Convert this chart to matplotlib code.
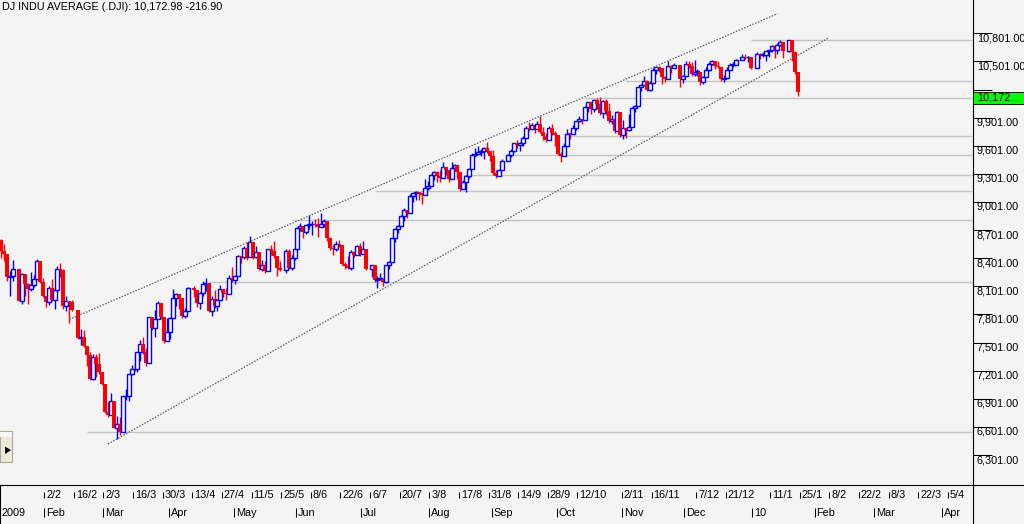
import numpy as np
import pandas as pd
import matplotlib
matplotlib.use("Agg")
import matplotlib.pyplot as plt
import matplotlib.transforms as mtransforms
from matplotlib.patches import Rectangle, Polygon
from matplotlib.lines import Line2D

plt.rcParams['font.family'] = ['Liberation Sans', 'DejaVu Sans']

# daily DJIA, one row per week (Mon..Fri), None = market closed
first_day = '2009-01-12'
first_open = 8599.0
close = [
    8473.97, 8448.56, 8200.14, 8212.49, 8281.22,
    None, 7949.09, 8228.10, 8122.80, 8077.56,
    8116.03, 8174.73, 8375.45, 8149.01, 8000.86,
    7936.83, 8078.36, 7956.66, 8063.07, 8280.59,
    8270.87, 7888.88, 7939.53, 7932.76, 7850.41,
    None, 7552.60, 7555.63, 7465.95, 7365.67,
    7114.78, 7350.94, 7270.89, 7182.08, 7062.93,
    6763.29, 6726.02, 6875.84, 6594.44, 6626.94,
    6547.05, 6926.49, 6930.40, 7170.06, 7223.98,
    7216.97, 7395.70, 7486.58, 7400.80, 7278.38,
    7775.86, 7660.21, 7749.81, 7924.56, 7776.18,
    7522.02, 7608.92, 7761.60, 7978.08, 8017.59,
    7975.85, 7789.56, 7837.11, 8083.38, None,
    8057.81, 7920.18, 8029.62, 8125.43, 8131.33,
    7841.73, 7969.56, 7886.57, 7957.06, 8076.29,
    8025.00, 8016.95, 8185.73, 8168.12, 8212.41,
    8426.74, 8410.65, 8512.28, 8409.85, 8574.65,
    8418.77, 8469.11, 8284.89, 8331.32, 8268.64,
    8504.08, 8474.85, 8422.04, 8292.13, 8277.32,
    None, 8473.49, 8300.02, 8403.80, 8500.33,
    8721.44, 8740.87, 8675.24, 8750.24, 8763.13,
    8764.49, 8763.06, 8739.02, 8770.92, 8799.26,
    8612.13, 8504.67, 8497.18, 8555.60, 8539.73,
    8339.01, 8322.91, 8299.86, 8472.40, 8438.39,
    8529.38, 8447.00, 8504.06, 8280.74, None,
    8324.87, 8163.60, 8178.41, 8183.17, 8146.52,
    8331.68, 8359.49, 8616.21, 8711.82, 8743.94,
    8848.15, 8915.94, 8881.26, 9069.29, 9093.24,
    9108.51, 9096.72, 9070.72, 9154.46, 9171.61,
    9286.56, 9320.19, 9280.97, 9256.26, 9370.07,
    9337.95, 9241.45, 9361.61, 9398.19, 9321.40,
    9135.34, 9217.94, 9279.16, 9350.05, 9505.96,
    9509.28, 9539.29, 9543.52, 9580.63, 9544.20,
    9496.28, 9310.60, 9280.67, 9344.61, 9441.27,
    None, 9497.34, 9547.22, 9627.48, 9605.41,
    9626.80, 9683.41, 9791.71, 9783.92, 9820.20,
    9778.86, 9829.87, 9748.55, 9707.44, 9665.19,
    9789.36, 9742.20, 9712.28, 9509.28, 9487.67,
    9599.75, 9731.25, 9725.58, 9786.87, 9864.94,
    9885.80, 9871.06, 10015.86, 10062.94, 9995.91,
    10092.19, 10041.48, 9949.36, 10081.31, 9972.18,
    9867.96, 9882.17, 9762.69, 9962.58, 9712.73,
    9789.44, 9771.91, 9802.14, 10005.96, 10023.42,
    10226.94, 10246.97, 10291.26, 10197.47, 10270.47,
    10406.96, 10437.42, 10426.31, 10332.44, 10318.16,
    10450.95, 10433.71, 10464.40, None, 10309.92,
    10344.84, 10471.58, 10452.68, 10366.15, 10388.90,
    10390.11, 10285.97, 10337.05, 10405.83, 10471.50,
    10501.05, 10452.00, 10441.12, 10308.26, 10328.89,
    10414.14, 10464.93, 10466.44, 10520.10, None,
    10547.08, 10545.41, 10548.51, 10428.05, None,
    10583.96, 10572.02, 10573.68, 10606.86, 10618.19,
    10663.99, 10627.26, 10680.77, 10710.55, 10609.65,
    None, 10725.43, 10603.15, 10389.88, 10172.98,
]
high = [
    8611, 8556, 8449, 8261, 8380,
    None, 8290, 8244, 8228, 8136,
    8257, 8222, 8397, 8375, 8188,
    8001, 8100, 8175, 8090, 8315,
    8346, 8281, 7996, 7940, 7955,
    None, 7850, 7650, 7640, 7466,
    7400, 7380, 7380, 7390, 7180,
    7063, 6870, 6960, 6876, 6720,
    6710, 6926, 7008, 7170, 7260,
    7381, 7396, 7530, 7561, 7440,
    7776, 7776, 7850, 7940, 7925,
    7776, 7760, 7775, 8075, 8030,
    8018, 7976, 7870, 8090, None,
    8104, 8058, 8040, 8161, 8188,
    8131, 7993, 8060, 7966, 8115,
    8076, 8080, 8220, 8305, 8225,
    8435, 8427, 8530, 8575, 8640,
    8575, 8530, 8469, 8380, 8375,
    8504, 8540, 8580, 8422, 8370,
    None, 8500, 8500, 8435, 8500,
    8731, 8780, 8741, 8760, 8860,
    8800, 8820, 8830, 8880, 8820,
    8799, 8630, 8540, 8580, 8600,
    8540, 8360, 8425, 8490, 8480,
    8540, 8560, 8580, 8504, None,
    8330, 8325, 8210, 8240, 8185,
    8332, 8370, 8620, 8720, 8750,
    8860, 8935, 8920, 9090, 9100,
    9120, 9109, 9097, 9250, 9230,
    9300, 9330, 9330, 9340, 9430,
    9370, 9338, 9430, 9410, 9398,
    9321, 9240, 9290, 9360, 9520,
    9580, 9600, 9570, 9590, 9640,
    9544, 9560, 9340, 9350, 9460,
    None, 9510, 9570, 9630, 9660,
    9640, 9700, 9810, 9850, 9840,
    9820, 9860, 9917, 9800, 9740,
    9810, 9830, 9760, 9712, 9530,
    9630, 9780, 9740, 9820, 9870,
    9920, 9890, 10030, 10070, 10063,
    10100, 10110, 10119, 10090, 10100,
    10060, 9930, 9882, 9970, 9963,
    9880, 9789, 9940, 10010, 10040,
    10230, 10260, 10340, 10300, 10290,
    10430, 10440, 10450, 10426, 10340,
    10500, 10460, 10480, None, 10464,
    10360, 10500, 10500, 10490, 10520,
    10420, 10390, 10350, 10440, 10490,
    10520, 10510, 10500, 10441, 10360,
    10440, 10480, 10490, 10525, None,
    10580, 10580, 10560, 10550, None,
    10605, 10590, 10600, 10615, 10625,
    10680, 10664, 10700, 10730, 10711,
    None, 10730, 10725, 10610, 10390,
]
low = [
    8405, 8371, 8153, 7995, 8162,
    None, 7939, 7909, 7993, 7909,
    8052, 8098, 8175, 8135, 7985,
    7882, 7900, 7940, 7862, 8050,
    8200, 7862, 7839, 7707, 7833,
    None, 7534, 7478, 7450, 7249,
    7105, 7105, 7130, 7170, 7050,
    6750, 6705, 6726, 6586, 6470,
    6517, 6547, 6887, 6880, 7160,
    7200, 7190, 7300, 7380, 7250,
    7278, 7640, 7560, 7750, 7755,
    7495, 7522, 7538, 7762, 7890,
    7855, 7762, 7760, 7837, None,
    7982, 7880, 7855, 8000, 8055,
    7830, 7788, 7865, 7842, 7957,
    7990, 7960, 8017, 8150, 8130,
    8212, 8350, 8390, 8382, 8410,
    8390, 8400, 8270, 8268, 8240,
    8269, 8440, 8400, 8216, 8260,
    None, 8240, 8290, 8280, 8380,
    8500, 8690, 8620, 8660, 8710,
    8650, 8730, 8630, 8735, 8730,
    8580, 8490, 8440, 8480, 8520,
    8325, 8290, 8290, 8280, 8410,
    8438, 8420, 8447, 8270, None,
    8200, 8150, 8087, 8170, 8100,
    8140, 8290, 8359, 8570, 8670,
    8744, 8800, 8830, 8881, 9000,
    9020, 9020, 8980, 9071, 9130,
    9172, 9240, 9210, 9215, 9256,
    9290, 9210, 9241, 9330, 9250,
    9120, 9135, 9110, 9260, 9350,
    9480, 9509, 9490, 9460, 9520,
    9440, 9290, 9260, 9280, 9345,
    None, 9441, 9480, 9530, 9580,
    9550, 9600, 9683, 9760, 9780,
    9740, 9779, 9740, 9660, 9640,
    9665, 9720, 9600, 9500, 9430,
    9488, 9600, 9670, 9726, 9770,
    9850, 9830, 9871, 9960, 9940,
    9960, 9990, 9930, 9900, 9930,
    9840, 9830, 9740, 9763, 9690,
    9670, 9680, 9760, 9802, 9960,
    10023, 10180, 10247, 10180, 10190,
    10270, 10370, 10390, 10260, 10280,
    10318, 10380, 10430, None, 10230,
    10270, 10345, 10430, 10350, 10340,
    10350, 10250, 10260, 10337, 10400,
    10460, 10420, 10430, 10290, 10280,
    10329, 10410, 10440, 10466, None,
    10520, 10530, 10490, 10425, None,
    10428, 10530, 10550, 10510, 10550,
    10600, 10540, 10580, 10670, 10540,
    None, 10600, 10500, 10370, 10130,
]

# drawn lines (support / resistance levels and channel)
level_prices = [6548, 8149, 8811, 9121, 9292, 9505, 9700, 10111, 10287, 10729]
level_starts = ['2009-02-20', '2009-04-20', '2009-05-28', '2009-07-07', '2009-08-18',
                '2009-09-10', '2009-10-07', '2009-10-14', '2009-11-03', '2009-12-31']
upper_dates = ['2009-02-12', '2010-01-13']
upper_prices = [7748, 11010]
lower_dates = ['2009-03-03', '2010-02-05']
lower_prices = [6418, 10747]

price_ticks = [6301, 6601, 6901, 7201, 7501, 7801, 8101, 8401, 8701,
               9001, 9301, 9601, 9901, 10201, 10501, 10801]
tick_days = ['2009-02-02', '2009-02-16', '2009-03-02', '2009-03-16', '2009-03-30',
             '2009-04-13', '2009-04-27', '2009-05-11', '2009-05-25', '2009-06-08',
             '2009-06-22', '2009-07-06', '2009-07-20', '2009-08-03', '2009-08-17',
             '2009-08-31', '2009-09-14', '2009-09-28', '2009-10-12', '2009-11-02',
             '2009-11-16', '2009-12-07', '2009-12-21', '2010-01-11', '2010-01-25',
             '2010-02-08', '2010-02-22', '2010-03-08', '2010-03-22', '2010-04-05']
month_days = ['2009-02-02', '2009-03-02', '2009-04-01', '2009-05-01', '2009-06-01',
              '2009-07-01', '2009-08-03', '2009-09-01', '2009-10-01', '2009-11-02',
              '2009-12-01', '2010-01-01', '2010-02-01', '2010-03-01', '2010-04-01']
month_names = ['Feb', 'Mar', 'Apr', 'May', 'Jun', 'Jul', 'Aug', 'Sep', 'Oct', 'Nov',
               'Dec', '10', 'Feb', 'Mar', 'Apr']

BG = '#f4f4f4'
BLUE = '#0000ff'
RED = '#ff0000'
FS = 7.8

all_days = pd.bdate_range(first_day, '2010-04-30')


def pos(d):
    return all_days.get_loc(pd.Timestamp(d))


# build candles, open = previous close
xs, o, c, h, l = [], [], [], [], []
prev = first_open
for i, cl in enumerate(close):
    if cl is None:
        continue
    xs.append(i)
    o.append(prev)
    c.append(cl)
    h.append(high[i])
    l.append(low[i])
    prev = cl
xs = np.array(xs)
o = np.array(o)
c = np.array(c)
h = np.array(h)
l = np.array(l)
up = c >= o
last = c[-1]

fig = plt.figure(figsize=(10.24, 5.24), dpi=100, facecolor=BG)

W, H = 1024.0, 524.0
ax = fig.add_axes([0, 39 / H, 973 / W, 485 / H])
ax.set_facecolor(BG)
px_per_day = 2.963
x0 = -0.4
ax.set_xlim(x0, x0 + 973 / px_per_day)
ax.set_ylim(5981, 11156)

# horizontal levels
ax.hlines(level_prices, [pos(d) for d in level_starts], ax.get_xlim()[1],
          colors='#c4c4c4', lw=1.0, zorder=1)

# candles
edge_cols = [BLUE if u else RED for u in up]
face_cols = [BG if u else RED for u in up]
lws = [1.0 if u else 0.0 for u in up]
ax.vlines(xs, l, h, colors=edge_cols, lw=1.0, zorder=3)
ax.bar(xs, np.maximum(np.abs(c - o), 6), bottom=np.minimum(o, c), width=1.35,
       color=face_cols, edgecolor=edge_cols, linewidth=lws, zorder=4)

# channel
ax.plot([pos(d) for d in upper_dates], upper_prices, color='#606060', lw=0.9,
        ls=(0, (1.2, 1.2)), zorder=5)
ax.plot([pos(d) for d in lower_dates], lower_prices, color='#606060', lw=0.9,
        ls=(0, (1.2, 1.2)), zorder=5)

# price axis on the right; the label hidden under the last-price box is left out
for s in ['top', 'left', 'bottom']:
    ax.spines[s].set_visible(False)
ax.spines['right'].set_linewidth(0.8)
ax.set_xticks([])
ax.yaxis.tick_right()
ax.set_yticks(price_ticks)
ax.set_yticklabels(['' if abs(v - last) < 100 else '{:,.2f}'.format(v) for v in price_ticks])
ax.tick_params(axis='y', direction='out', length=13.7, width=0.75, pad=-11.0,
               labelsize=FS, colors='black')
for lab in ax.get_yticklabels():
    lab.set_verticalalignment('top')
    lab.set_horizontalalignment('left')

# last price box
blend = mtransforms.blended_transform_factory(ax.transAxes, ax.transData)
price_per_px = (ax.get_ylim()[1] - ax.get_ylim()[0]) / 485.0
box_h = 11.5 * price_per_px
ax.add_patch(Rectangle((1.0, last - box_h), 51 / 973, box_h, transform=blend,
                       facecolor='#00ff00', edgecolor='black', lw=0.6,
                       clip_on=False, zorder=10))
ax.text(1.0, last - box_h / 2, '{:,.2f}'.format(last)[:6] + '...',
        transform=mtransforms.offset_copy(blend, fig=fig, x=4, y=0, units='dots'),
        ha='left', va='center', fontsize=FS, zorder=11, clip_on=False)

# title
fig.text(2 / W, 1 - 7.5 / H,
         'DJ INDU AVERAGE (.DJI): {:,.2f} {:.2f}'.format(last, last - c[-2]),
         ha='left', va='center', fontsize=FS)

# right panel bottom line
fig.add_artist(Line2D([973 / W, 1.0], [1 - 484.5 / H] * 2, color='black', lw=0.8))

# date axis
axd = fig.add_axes([0, 0, 973 / W, 39 / H])
axd.set_facecolor(BG)
axd.set_xlim(ax.get_xlim())
axd.set_ylim(524, 485)
axd.set_xticks([])
axd.set_yticks([])
axd.spines['bottom'].set_visible(False)
for s in ['top', 'left', 'right']:
    axd.spines[s].set_linewidth(0.8)
shift = mtransforms.offset_copy(axd.transData, fig=fig, x=2, y=0, units='dots')

tx = [pos(d) - 0.5 for d in tick_days]
axd.vlines(tx, 491.5, 497.5, colors='black', lw=0.75)
for d, xv in zip(tick_days, tx):
    t = pd.Timestamp(d)
    axd.text(xv, 495.0, '{}/{}'.format(t.day, t.month), transform=shift,
             ha='left', va='center', fontsize=FS)

mx = [pos(d) - 0.5 for d in month_days]
axd.vlines(mx, 507.5, 516.5, colors='black', lw=0.75)
for name, xv in zip(month_names, mx):
    axd.text(xv, 512.5, name, transform=shift, ha='left', va='center', fontsize=FS)
fig.text(2 / W, 1 - 512.5 / H, '2009', ha='left', va='center', fontsize=FS)

# scroll button at the lower left
fig.add_artist(Rectangle((0, 1 - 462 / H), 12 / W, 31 / H, transform=fig.transFigure,
                         facecolor='#ece9d8', edgecolor='#aca899', lw=0.8))
fig.add_artist(Rectangle((0, 1 - 437 / H), 12 / W, 5.5 / H, transform=fig.transFigure,
                         facecolor='#f8f8f4', edgecolor='none'))
fig.add_artist(Polygon([(5 / W, 1 - 446.5 / H), (5 / W, 1 - 454 / H), (11 / W, 1 - 450.2 / H)],
                       closed=True, transform=fig.transFigure, facecolor='black',
                       edgecolor='none'))

fig.savefig('out.png', dpi=100, facecolor=BG)
